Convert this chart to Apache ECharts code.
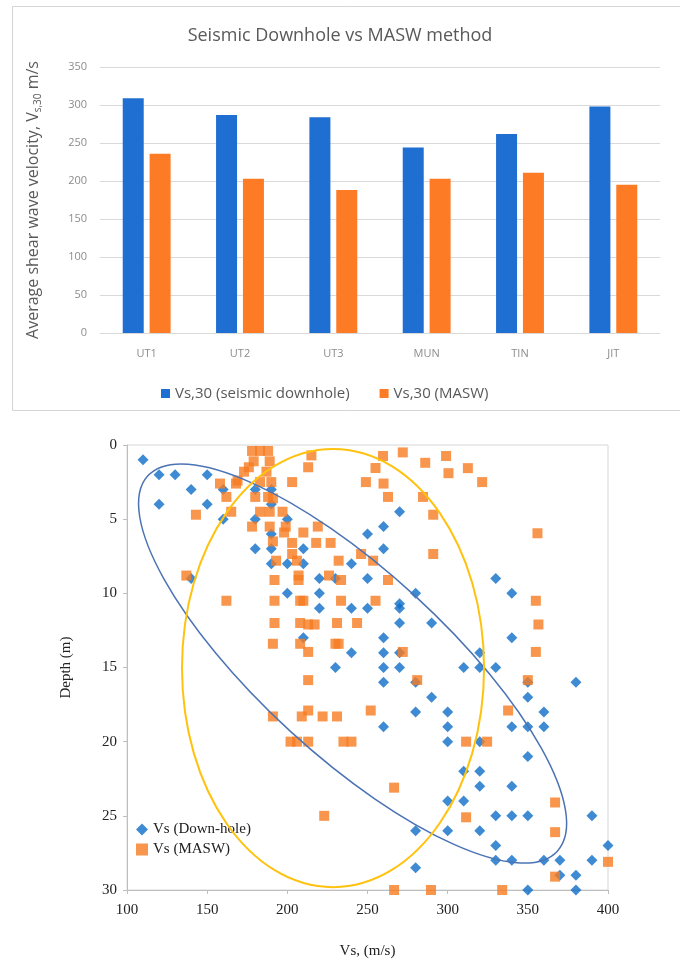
<!DOCTYPE html>
<html><head><meta charset="utf-8">
<script src="https://cdn.jsdelivr.net/npm/echarts@6/dist/echarts.min.js"></script>
<style>html,body{margin:0;padding:0;background:#fff}#c{width:680px;height:965px}</style>
</head><body><div id="c"></div>
<script>
// ---- Bar chart data ----
const barCategories = ['UT1', 'UT2', 'UT3', 'MUN', 'TIN', 'JIT'];
const vsDownhole30 = [309, 287, 284, 244, 262, 298];
const vsMasw30 = [236, 203, 188, 203, 211, 195];

// ---- Scatter data [Vs (m/s), depth (m)] ----
const downhole = [
  [110,1],[120,2],[130,2],[150,2],[140,3],[160,3],[120,4],[150,4],[160,5],[140,9],
  [180,3],[180,5],[180,7],
  [190,3],[190,4],[190,6],[190,7],[190,8],
  [200,5],[200,8],[200,10],
  [210,7],[210,8],[210,13],
  [220,9],[220,10],[220,11],
  [230,9],[230,15],
  [240,8],[240,11],[240,14],
  [250,6],[250,9],[250,11],
  [260,5.5],[260,7],[260,13],[260,14],[260,15],[260,16],[260,19],
  [270,4.5],[270,10.7],[270,11],[270,12],[270,14],[270,15],
  [280,10],[280,16],[280,18],[280,26],[280,28.5],
  [290,12],[290,17],
  [300,18],[300,19],[300,20],[300,24],[300,26],
  [310,15],[310,22],[310,24],
  [320,14],[320,15],[320,20],[320,22],[320,23],[320,26],
  [330,9],[330,15],[330,25],[330,27],[330,28],
  [340,10],[340,13],[340,19],[340,23],[340,25],[340,28],
  [350,16],[350,17],[350,19],[350,21],[350,25],[350,30],
  [360,18],[360,19],[360,28],
  [370,28],[370,29],
  [380,16],[380,29],[380,30],
  [390,25],[390,28],
  [400,27]
];
const masw = [
  [178,0.4],[183,0.4],[188,0.4],[179,1.1],[189,1.1],[176,1.5],[187,1.8],[173,1.8],
  [169,2.4],[183,2.5],[190,2.5],[215,0.7],[213,1.5],[203,2.5],[158,2.6],[168,2.6],
  [162,3.5],[180,3.5],[188,3.5],[191,3.6],[165,4.5],[143,4.7],[183,4.5],[189,4.5],
  [197,4.5],[178,5.5],[189,5.5],[199,5.5],[198,5.9],[210,5.9],[219,5.5],[191,6.5],
  [203,6.6],[218,6.6],[227,6.6],[203,7.35],[206,7.8],[193,7.8],[232,7.8],[246,7.35],
  [253.5,7.8],[137,8.8],[192,9.1],[207,8.8],[207,9.1],[226,8.8],[233.5,9.1],[262.8,9.1],
  [162,10.5],[192,10.5],[208,10.5],[210,10.5],[233.5,10.5],[255,10.5],
  [192,12],[208,12],[213,12.1],[217,12.1],[231,12],[243.5,12],
  [191,13.4],[208,13.4],[213,13.95],[230,13.4],[232,13.4],[272,13.95],
  [213,15.85],[281,15.85],[191,18.3],[209,18.3],[213,17.9],[222,18.3],[231,18.3],[252,17.9],
  [202,20],[206,20],[213,20],[235,20],[240,20],[223,25],[266.6,23.1],
  [311.5,20],[324.6,20],[311.5,25.1],[337.7,17.9],[350,15.85],[355,13.95],[356.6,12.1],
  [355,10.5],[356,5.95],[291,7.35],[291,4.7],[284.6,3.5],[262.8,3.5],[260,2.6],[249,2.5],
  [255,1.55],[259.7,0.74],[272,0.5],[286,1.2],[299,0.74],[300.5,1.9],[312.6,1.56],[321.5,2.5],
  [367,24.1],[367,26.1],[367,29.1],[400,28.1],[266.6,30],[289.6,30],[334,30]
];

// ---- Ellipse annotations (data coords): centre, end of one semi-axis, end of the other ----
const blueEllipse = { centre: [240.7, 14.73], axisEndA: [368.4, 27.38], axisEndB: [279.5, 10.16] };
const yellowEllipse = { centre: [228.5, 15.04], axisEndA: [228.5, 0.27], axisEndB: [322.7, 15.04] };

const sans = 'Open Sans';
const serif = 'Liberation Serif';

const chart = echarts.init(document.getElementById('c'), null, { renderer: 'canvas' });

chart.setOption({
  animation: false,
  backgroundColor: '#fff',
  title: {
    text: 'Seismic Downhole vs MASW method',
    left: 'center',
    top: 22,
    textStyle: { fontFamily: sans, fontSize: 18, fontWeight: 'normal', color: '#595959' }
  },
  legend: [
    {
      data: ['Vs,30 (seismic downhole)', 'Vs,30 (MASW)'],
      left: 156, top: 381,
      itemWidth: 9, itemHeight: 9, itemGap: 30,
      icon: 'rect',
      textStyle: { fontFamily: sans, fontSize: 15, color: '#595959' }
    },
    {
      data: [{ name: 'Vs (Down-hole)', icon: 'diamond' }, { name: 'Vs (MASW)', icon: 'rect' }],
      orient: 'vertical',
      left: 131, top: 817,
      itemWidth: 12, itemHeight: 12, itemGap: 5,
      textStyle: { fontFamily: serif, fontSize: 15, color: '#222' }
    }
  ],
  grid: [
    { left: 100, top: 67, width: 560, height: 266 },
    { left: 127, top: 445, width: 481, height: 445, show: true, borderColor: '#d6d6d6', borderWidth: 1 }
  ],
  xAxis: [
    {
      gridIndex: 0, type: 'category', data: barCategories,
      axisLine: { lineStyle: { color: '#d9d9d9' } },
      axisTick: { show: false },
      axisLabel: { fontFamily: sans, fontSize: 11, color: '#8c8c8c', margin: 15 }
    },
    {
      gridIndex: 1, type: 'value', min: 100, max: 400, interval: 50,
      name: 'Vs, (m/s)', nameLocation: 'middle', nameGap: 54,
      nameTextStyle: { fontFamily: serif, fontSize: 15, color: '#222' },
      axisLine: { onZero: false, lineStyle: { color: '#bfbfbf' } },
      axisTick: { show: true, length: 4, lineStyle: { color: '#bfbfbf' } },
      axisLabel: { fontFamily: serif, fontSize: 15, color: '#222', margin: 13 },
      splitLine: { show: false }
    }
  ],
  yAxis: [
    {
      gridIndex: 0, type: 'value', min: 0, max: 350, interval: 50,
      name: '{a|Average shear wave velocity, V}{s|s,30}{a| m/s}',
      nameLocation: 'middle', nameGap: 57,
      nameTextStyle: {
        rich: {
          a: { fontFamily: sans, fontSize: 16, color: '#595959', lineHeight: 20 },
          s: { fontFamily: sans, fontSize: 10, color: '#595959', lineHeight: 20, verticalAlign: 'bottom' }
        }
      },
      axisLine: { show: false },
      axisTick: { show: false },
      axisLabel: { fontFamily: sans, fontSize: 11, color: '#8c8c8c', margin: 13 },
      splitLine: { lineStyle: { color: '#d9d9d9' } }
    },
    {
      gridIndex: 1, type: 'value', min: 0, max: 30, interval: 5, inverse: true,
      name: 'Depth (m)', nameLocation: 'middle', nameGap: 53,
      nameTextStyle: { fontFamily: serif, fontSize: 15, color: '#222' },
      axisLine: { show: true, onZero: false, lineStyle: { color: '#bfbfbf' } },
      axisTick: { show: true, length: 4, lineStyle: { color: '#bfbfbf' } },
      axisLabel: { fontFamily: serif, fontSize: 15, color: '#222', margin: 10 },
      splitLine: { show: false }
    }
  ],
  series: [
    {
      name: 'Vs,30 (seismic downhole)', type: 'bar', xAxisIndex: 0, yAxisIndex: 0,
      data: vsDownhole30, barWidth: 21, barGap: '28%',
      itemStyle: { color: '#1f6fd2' }
    },
    {
      name: 'Vs,30 (MASW)', type: 'bar', xAxisIndex: 0, yAxisIndex: 0,
      data: vsMasw30, barWidth: 21,
      itemStyle: { color: '#fd7b25' }
    },
    {
      name: 'Vs (Down-hole)', type: 'scatter', xAxisIndex: 1, yAxisIndex: 1,
      data: downhole, symbol: 'diamond', symbolSize: 11, clip: false,
      itemStyle: { color: '#0f6ec8' }
    },
    {
      name: 'Vs (MASW)', type: 'scatter', xAxisIndex: 1, yAxisIndex: 1,
      data: masw, symbol: 'rect', symbolSize: 10, clip: false,
      itemStyle: { color: '#f67c22' }
    }
  ],
  graphic: [
    {
      id: 'panelBorder', type: 'rect', silent: true, z: -1,
      shape: { x: 12.5, y: 6.5, width: 700, height: 404 },
      style: { fill: 'none', stroke: '#d4d4d4', lineWidth: 1 }
    }
  ]
});

function ellipseGraphic(id, e, color, width) {
  const finder = { xAxisIndex: 1, yAxisIndex: 1 };
  const pc = chart.convertToPixel(finder, e.centre);
  const pa = chart.convertToPixel(finder, e.axisEndA);
  const pb = chart.convertToPixel(finder, e.axisEndB);
  const dx = pa[0] - pc[0], dy = pa[1] - pc[1];
  const ra = Math.hypot(dx, dy);
  const rb = Math.hypot(pb[0] - pc[0], pb[1] - pc[1]);
  return {
    id: id, type: 'ellipse', silent: true, z: 10,
    x: pc[0], y: pc[1], rotation: -Math.atan2(dy, dx),
    shape: { cx: 0, cy: 0, rx: ra, ry: rb },
    style: { fill: 'none', stroke: color, lineWidth: width }
  };
}

chart.setOption({
  graphic: [
    ellipseGraphic('blueEllipse', blueEllipse, '#4b73b4', 1.5),
    ellipseGraphic('yellowEllipse', yellowEllipse, '#ffc20e', 2)
  ]
});
</script>
</body></html>
